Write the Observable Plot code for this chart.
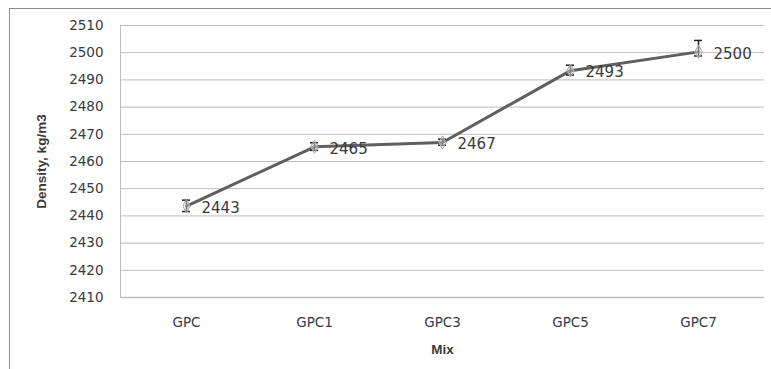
<!DOCTYPE html>
<html><head><meta charset="utf-8">
<script src="https://cdn.jsdelivr.net/npm/d3@7"></script>
<script src="https://cdn.jsdelivr.net/npm/@observablehq/plot@0.6"></script>
<style>
body{margin:0;background:#fff;}
#wrap{position:relative;width:771px;height:369px;overflow:hidden;}
#frame{position:absolute;left:9px;top:8px;width:800px;height:400px;border-left:1px solid #8c8c8c;border-top:1px solid #8c8c8c;}
#wrap svg{position:absolute;left:0;top:0;}
</style></head>
<body><div id="wrap"><div id="frame"></div></div>
<script>
const mixes = ["GPC","GPC1","GPC3","GPC5","GPC7"];
const density = [2443.6, 2465.4, 2467, 2493.4, 2500.3];
const labels = ["2443","2465","2467","2493","2500"];
const errUp = [2.2, 1.5, 1.2, 2.0, 4.2];
const errDown = [2.0, 1.3, 1.0, 1.6, 1.5];
const yTicks = [2410,2420,2430,2440,2450,2460,2470,2480,2490,2500,2510];

const data = mixes.map((m,i)=>({mix:m, v:density[i], lo:density[i]-errDown[i], hi:density[i]+errUp[i], label:labels[i]}));

const leftLine = (index, scales, values, dims) => {
  const g = document.createElementNS("http://www.w3.org/2000/svg","line");
  g.setAttribute("x1", dims.marginLeft + 0.5);
  g.setAttribute("x2", dims.marginLeft + 0.5);
  g.setAttribute("y1", dims.marginTop);
  g.setAttribute("y2", dims.height - dims.marginBottom);
  g.setAttribute("stroke", "#bdbdbd");
  return g;
};

const chart = Plot.plot({
  width: 771, height: 369,
  marginLeft: 120, marginRight: 7, marginTop: 25, marginBottom: 72,
  style: {fontFamily: "DejaVu Sans", fontSize: "13px", color: "#3a3a3a", background: "transparent"},
  x: {domain: mixes, padding: 0, align: 0.5},
  y: {domain: [2410, 2510]},
  marks: [
    Plot.gridY(yTicks, {stroke: "#bdbdbd", strokeOpacity: 1}),
    Plot.ruleY([2410], {stroke: "#bdbdbd", strokeWidth: 1.5}),
    leftLine,
    Plot.axisY(yTicks, {tickSize: 0, tickPadding: 17, fontSize: 13.5, fill: "#3a3a3a", tickFormat: d3.format("d"), label: "Density, kg/m3", labelAnchor: "center", labelOffset: 84, labelArrow: "none"}),
    Plot.axisX({tickSize: 0, tickPadding: 20, fontSize: 13.5, fill: "#3a3a3a", label: "Mix", labelAnchor: "center", labelOffset: 56, labelArrow: "none"}),
    Plot.line(data, {x: "mix", y: "v", stroke: "#5f5f5f", strokeWidth: 3}),
    Plot.ruleX(data, {x: "mix", y1: "lo", y2: "hi", stroke: "#222", strokeWidth: 1.5}),
    Plot.tickY(data, {x: "mix", y: "hi", stroke: "#222", strokeWidth: 1.5, insetLeft: 60, insetRight: 60}),
    Plot.tickY(data, {x: "mix", y: "lo", stroke: "#222", strokeWidth: 1.5, insetLeft: 60, insetRight: 60}),
    Plot.dot(data, {x: "mix", y: "v", symbol: "diamond", r: 4, fill: "#d9d9d9", fillOpacity: 0.5, stroke: "#a6a6a6", strokeWidth: 1}),
    Plot.text(data, {x: "mix", y: "v", text: "label", dx: 15, dy: 2, textAnchor: "start", fontSize: 15, fill: "#3a3a3a"})
  ]
});
chart.querySelectorAll("g[aria-label='y-axis label'] text, g[aria-label='x-axis label'] text").forEach(t=>{
  t.setAttribute("font-weight","bold");
  t.setAttribute("font-family","Liberation Sans");
});
document.getElementById("wrap").appendChild(chart);
</script></body></html>
